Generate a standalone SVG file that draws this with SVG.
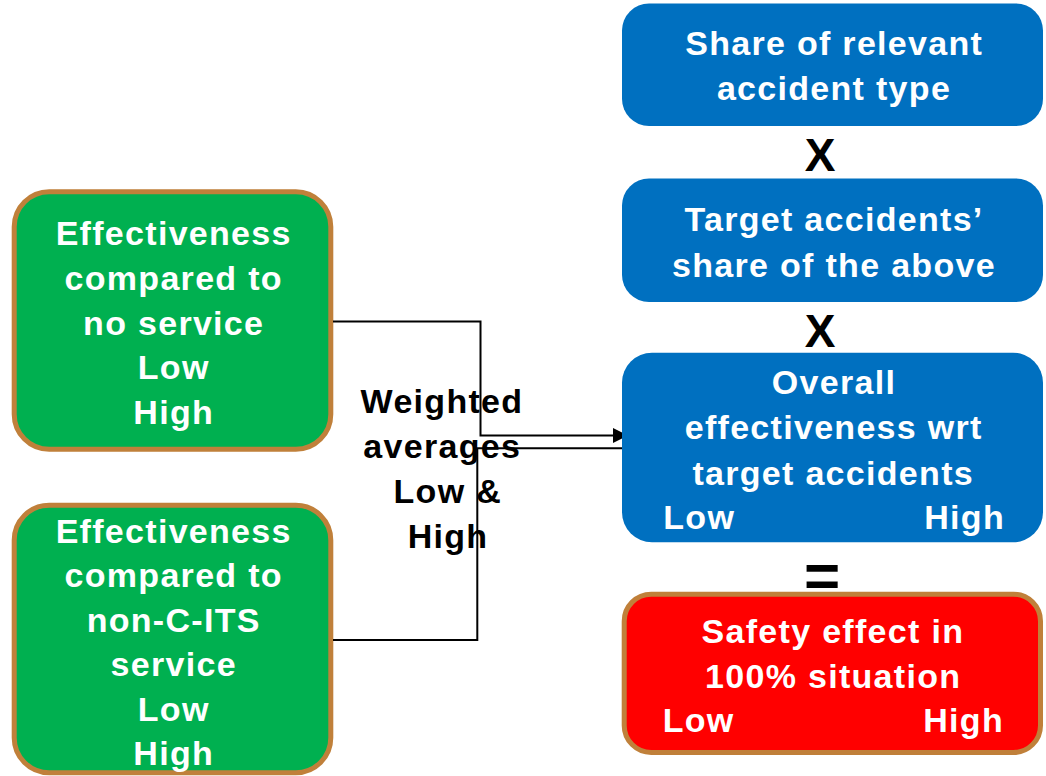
<svg xmlns="http://www.w3.org/2000/svg" width="1046" height="776" viewBox="0 0 1046 776">
  <style>
    .t { font-family: "Liberation Sans", Arial, sans-serif; font-weight: bold; font-size: 34px; letter-spacing: 1.3px; }
    .w { fill: #FFFFFF; }
    .k { fill: #000000; }
    .green { fill: #00B050; stroke: #C0803A; stroke-width: 5; }
    .blue { fill: #0070C0; }
    .red { fill: #FF0000; stroke: #C0803A; stroke-width: 5; }
    .conn { fill: none; stroke: #000000; stroke-width: 2; }
    .op { font-family: "Liberation Sans", Arial, sans-serif; font-weight: bold; fill: #000000; }
  </style>
  <defs>
    <marker id="arrow" markerUnits="userSpaceOnUse" markerWidth="16" markerHeight="16" refX="15" refY="7.5" orient="auto">
      <path d="M0,0 L15,7.5 L0,15 z" fill="#000000"/>
    </marker>
  </defs>
  <rect width="1046" height="776" fill="#FFFFFF"/>

  <g id="node-eff-no-service">
    <rect class="green" x="14.2" y="191.8" width="316.6" height="257.4" rx="35" ry="35"/>
    <text class="t w" text-anchor="middle"><tspan x="173.7" y="244.5">Effectiveness</tspan><tspan x="173.7" y="289.5">compared to</tspan><tspan x="173.7" y="334.5">no service</tspan><tspan x="173.7" y="379">Low</tspan><tspan x="173.7" y="423.5">High</tspan></text>
  </g>

  <g id="node-eff-non-cits">
    <rect class="green" x="14.2" y="505.2" width="316.6" height="267.5" rx="35" ry="35"/>
    <text class="t w" text-anchor="middle"><tspan x="173.7" y="542.5">Effectiveness</tspan><tspan x="173.7" y="587">compared to</tspan><tspan x="173.7" y="631.5">non-C-ITS</tspan><tspan x="173.7" y="676">service</tspan><tspan x="173.7" y="720.5">Low</tspan><tspan x="173.7" y="765">High</tspan></text>
  </g>

  <g id="connectors">
    <path class="conn" d="M333,321.5 H480.5 V435.5 H628" marker-end="url(#arrow)"/>
    <path class="conn" d="M333,640 H477.3 V448.3 H624"/>
  </g>

  <g id="label-weighted">
    <text class="t k" text-anchor="middle"><tspan x="442" y="413.3">Weighted</tspan><tspan x="442.3" y="458">averages</tspan><tspan x="447.8" y="503.3">Low &amp;</tspan><tspan x="448" y="548.3">High</tspan></text>
  </g>

  <g id="node-share-accident-type">
    <rect class="blue" x="622" y="3.5" width="421" height="122.5" rx="27" ry="27"/>
    <text class="t w" text-anchor="middle"><tspan x="834.2" y="55">Share of relevant</tspan><tspan x="834" y="100">accident type</tspan></text>
  </g>

  <text class="op" x="820" y="171" font-size="46" text-anchor="middle">X</text>

  <g id="node-target-share">
    <rect class="blue" x="622" y="178.5" width="421" height="123.5" rx="27" ry="27"/>
    <text class="t w" text-anchor="middle"><tspan x="834" y="231">Target accidents’</tspan><tspan x="834" y="276.5">share of the above</tspan></text>
  </g>

  <text class="op" x="820" y="347" font-size="46" text-anchor="middle">X</text>

  <g id="node-overall-effectiveness">
    <rect class="blue" x="622" y="352.7" width="421" height="189.6" rx="30" ry="30"/>
    <text class="t w" text-anchor="middle"><tspan x="834" y="394.3">Overall</tspan><tspan x="833.7" y="439.3">effectiveness wrt</tspan><tspan x="833.2" y="485">target accidents</tspan></text>
    <text class="t w" x="663.3" y="529.3">Low</text>
    <text class="t w" x="1005" y="529.3" text-anchor="end">High</text>
  </g>

  <text class="op" x="822" y="597" font-size="62" text-anchor="middle">=</text>

  <g id="node-safety-effect">
    <rect class="red" x="624.2" y="594.2" width="416.3" height="158.3" rx="27" ry="27"/>
    <text class="t w" text-anchor="middle"><tspan x="832.9" y="643.3">Safety effect in</tspan><tspan x="833.2" y="687.7">100% situation</tspan></text>
    <text class="t w" x="662.7" y="731.7">Low</text>
    <text class="t w" x="1004" y="731.7" text-anchor="end">High</text>
  </g>
</svg>
